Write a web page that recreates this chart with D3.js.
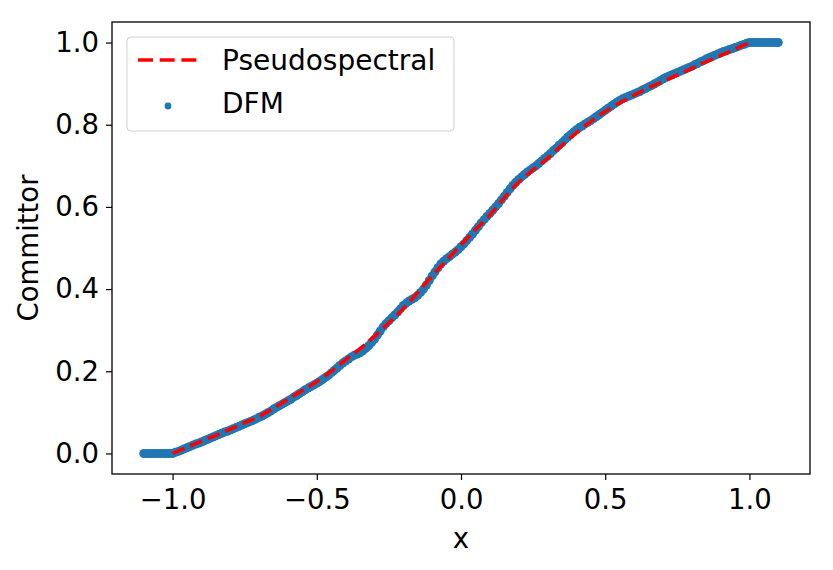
<!DOCTYPE html>
<html>
<head>
<meta charset="utf-8">
<script src="https://d3js.org/d3.v7.min.js"></script>
<style>
  body { margin: 0; background: #fff; }
  text { font-family: "DejaVu Sans", sans-serif; fill: #000; }
</style>
</head>
<body>
<svg id="chart" width="833" height="570"></svg>
<script>
// pseudospectral solution (red dashed line)
var psX = [-1.00, -0.95, -0.90, -0.85, -0.80, -0.75, -0.70, -0.65, -0.60, -0.55, -0.50,
           -0.45, -0.40, -0.35, -0.30, -0.25, -0.20, -0.15, -0.10, -0.05, 0.00,
           0.05, 0.10, 0.15, 0.20, 0.25, 0.30, 0.35, 0.40, 0.45, 0.50,
           0.55, 0.60, 0.65, 0.70, 0.75, 0.80, 0.85, 0.90, 0.95, 1.00];
var psY = [0.000, 0.015, 0.030, 0.044, 0.059, 0.075, 0.090, 0.110, 0.132, 0.153, 0.175,
           0.200, 0.228, 0.255, 0.285, 0.318, 0.352, 0.392, 0.432, 0.470, 0.508,
           0.545, 0.580, 0.622, 0.660, 0.690, 0.718, 0.750, 0.780, 0.808, 0.832,
           0.853, 0.872, 0.890, 0.905, 0.921, 0.937, 0.953, 0.968, 0.984, 1.000];

// DFM samples (blue dots)
var dfmX = [
  -1.10, -1.09, -1.08, -1.07, -1.06, -1.05, -1.04, -1.03, -1.02, -1.01,
  -1.00, -0.99, -0.98, -0.97, -0.96, -0.95, -0.94, -0.93, -0.92, -0.91,
  -0.90, -0.89, -0.88, -0.87, -0.86, -0.85, -0.84, -0.83, -0.82, -0.81,
  -0.80, -0.79, -0.78, -0.77, -0.76, -0.75, -0.74, -0.73, -0.72, -0.71,
  -0.70, -0.69, -0.68, -0.67, -0.66, -0.65, -0.64, -0.63, -0.62, -0.61,
  -0.60, -0.59, -0.58, -0.57, -0.56, -0.55, -0.54, -0.53, -0.52, -0.51,
  -0.50, -0.49, -0.48, -0.47, -0.46, -0.45, -0.44, -0.43, -0.42, -0.41,
  -0.40, -0.39, -0.38, -0.37, -0.36, -0.35, -0.34, -0.33, -0.32, -0.31,
  -0.30, -0.29, -0.28, -0.27, -0.26, -0.25, -0.24, -0.23, -0.22, -0.21,
  -0.20, -0.19, -0.18, -0.17, -0.16, -0.15, -0.14, -0.13, -0.12, -0.11,
  -0.10, -0.09, -0.08, -0.07, -0.06, -0.05, -0.04, -0.03, -0.02, -0.01,
  0.00, 0.01, 0.02, 0.03, 0.04, 0.05, 0.06, 0.07, 0.08, 0.09,
  0.10, 0.11, 0.12, 0.13, 0.14, 0.15, 0.16, 0.17, 0.18, 0.19,
  0.20, 0.21, 0.22, 0.23, 0.24, 0.25, 0.26, 0.27, 0.28, 0.29,
  0.30, 0.31, 0.32, 0.33, 0.34, 0.35, 0.36, 0.37, 0.38, 0.39,
  0.40, 0.41, 0.42, 0.43, 0.44, 0.45, 0.46, 0.47, 0.48, 0.49,
  0.50, 0.51, 0.52, 0.53, 0.54, 0.55, 0.56, 0.57, 0.58, 0.59,
  0.60, 0.61, 0.62, 0.63, 0.64, 0.65, 0.66, 0.67, 0.68, 0.69,
  0.70, 0.71, 0.72, 0.73, 0.74, 0.75, 0.76, 0.77, 0.78, 0.79,
  0.80, 0.81, 0.82, 0.83, 0.84, 0.85, 0.86, 0.87, 0.88, 0.89,
  0.90, 0.91, 0.92, 0.93, 0.94, 0.95, 0.96, 0.97, 0.98, 0.99,
  1.00, 1.01, 1.02, 1.03, 1.04, 1.05, 1.06, 1.07, 1.08, 1.09, 1.10];
var dfmY = [
  0, 0, 0, 0, 0, 0, 0, 0, 0, 0,
  0.000, 0.003, 0.005, 0.008, 0.011, 0.014, 0.017, 0.020, 0.023, 0.025,
  0.028, 0.031, 0.034, 0.037, 0.040, 0.043, 0.046, 0.049, 0.052, 0.054,
  0.057, 0.060, 0.063, 0.066, 0.069, 0.072, 0.075, 0.078, 0.081, 0.084,
  0.088, 0.091, 0.095, 0.099, 0.103, 0.108, 0.112, 0.116, 0.120, 0.124,
  0.128, 0.132, 0.137, 0.141, 0.146, 0.150, 0.155, 0.159, 0.163, 0.167,
  0.171, 0.175, 0.180, 0.185, 0.190, 0.196, 0.202, 0.208, 0.214, 0.220,
  0.225, 0.230, 0.235, 0.239, 0.242, 0.245, 0.250, 0.256, 0.262, 0.270,
  0.278, 0.288, 0.298, 0.308, 0.316, 0.323, 0.330, 0.337, 0.344, 0.352,
  0.360, 0.366, 0.371, 0.375, 0.379, 0.385, 0.392, 0.400, 0.410, 0.421,
  0.432, 0.442, 0.452, 0.461, 0.468, 0.474, 0.479, 0.485, 0.490, 0.496,
  0.503, 0.510, 0.518, 0.526, 0.534, 0.543, 0.552, 0.561, 0.569, 0.577,
  0.584, 0.592, 0.600, 0.608, 0.617, 0.626, 0.635, 0.644, 0.653, 0.660,
  0.667, 0.673, 0.679, 0.685, 0.690, 0.695, 0.700, 0.706, 0.712, 0.718,
  0.724, 0.730, 0.737, 0.743, 0.750, 0.756, 0.763, 0.770, 0.776, 0.782,
  0.788, 0.793, 0.797, 0.802, 0.806, 0.810, 0.815, 0.820, 0.825, 0.830,
  0.835, 0.840, 0.845, 0.850, 0.855, 0.859, 0.863, 0.866, 0.869, 0.872,
  0.875, 0.878, 0.881, 0.885, 0.888, 0.892, 0.895, 0.899, 0.903, 0.907,
  0.911, 0.915, 0.918, 0.921, 0.924, 0.927, 0.930, 0.933, 0.936, 0.939,
  0.942, 0.946, 0.949, 0.953, 0.956, 0.960, 0.963, 0.966, 0.969, 0.972,
  0.975, 0.978, 0.980, 0.983, 0.985, 0.988, 0.990, 0.993, 0.995, 0.998,
  1.000, 1, 1, 1, 1, 1, 1, 1, 1, 1, 1];

var xTicks = [-1.0, -0.5, 0.0, 0.5, 1.0];
var yTicks = [0.0, 0.2, 0.4, 0.6, 0.8, 1.0];
var seriesNames = ["Pseudospectral", "DFM"];

var svg = d3.select("#chart");
var mLeft = 112, mRight = 810, mTop = 22, mBottom = 474;

var x = d3.scaleLinear().domain([-1.21, 1.21]).range([mLeft, mRight]);
var y = d3.scaleLinear().domain([-0.05, 1.05]).range([mBottom, mTop]);

var fmt = function(d) { return d3.format(".1f")(d).replace("-", "\u2212"); };

// axes
var xAxis = svg.append("g")
  .attr("transform", "translate(0," + mBottom + ")")
  .call(d3.axisBottom(x).tickValues(xTicks).tickFormat(fmt).tickSizeOuter(0).tickSize(6).tickPadding(7));
var yAxis = svg.append("g")
  .attr("transform", "translate(" + mLeft + ",0)")
  .call(d3.axisLeft(y).tickValues(yTicks).tickFormat(fmt).tickSizeOuter(0).tickSize(6).tickPadding(7));

[xAxis, yAxis].forEach(function(a) {
  a.select(".domain").remove();
  a.selectAll(".tick line").attr("stroke", "#000").attr("stroke-width", 1.2);
  a.selectAll(".tick text")
    .style("font-size", "27.5px")
    .style("font-family", "DejaVu Sans, sans-serif")
    .attr("fill", "#000");
});
xAxis.selectAll(".tick text").attr("dy", "0.8em");

// dfm dots
svg.append("g").selectAll("circle")
  .data(dfmX.map(function(d, i) { return [d, dfmY[i]]; }))
  .enter()
  .append("circle")
  .attr("cx", function(d) { return x(d[0]); })
  .attr("cy", function(d) { return y(d[1]); })
  .attr("r", 4.5)
  .attr("fill", "#1f77b4");

// pseudospectral line
var line = d3.line()
  .x(function(d) { return x(d[0]); })
  .y(function(d) { return y(d[1]); })
  .curve(d3.curveMonotoneX);

svg.append("path")
  .datum(psX.map(function(d, i) { return [d, psY[i]]; }))
  .attr("d", line)
  .attr("fill", "none")
  .attr("stroke", "red")
  .attr("stroke-width", 3.6)
  .attr("stroke-dasharray", "13,6");

// frame
svg.append("rect")
  .attr("x", mLeft).attr("y", mTop)
  .attr("width", mRight - mLeft).attr("height", mBottom - mTop)
  .attr("fill", "none").attr("stroke", "#000").attr("stroke-width", 1.3);

// axis labels
svg.append("text")
  .attr("x", (mLeft + mRight) / 2).attr("y", 548)
  .attr("text-anchor", "middle")
  .style("font-size", "27.5px")
  .text("x");

svg.append("text")
  .attr("transform", "translate(38," + ((mTop + mBottom) / 2) + ") rotate(-90)")
  .attr("text-anchor", "middle")
  .style("font-size", "27.5px")
  .text("Committor");

// legend
var legend = svg.append("g");
legend.append("rect")
  .attr("x", 127).attr("y", 37)
  .attr("width", 327).attr("height", 94)
  .attr("rx", 4)
  .attr("fill", "#fff").attr("fill-opacity", 0.8)
  .attr("stroke", "#d0d0d0").attr("stroke-width", 1);

legend.append("line")
  .attr("x1", 138).attr("x2", 197)
  .attr("y1", 60).attr("y2", 60)
  .attr("stroke", "red").attr("stroke-width", 3.6)
  .attr("stroke-dasharray", "15,6.7");

legend.append("circle")
  .attr("cx", 168).attr("cy", 106).attr("r", 3.4)
  .attr("fill", "#1f77b4");

legend.selectAll("text.leg")
  .data(seriesNames)
  .enter()
  .append("text")
  .attr("class", "leg")
  .attr("x", 222)
  .attr("y", function(d, i) { return 70 + i * 43; })
  .style("font-size", "28px")
  .text(function(d) { return d; });
</script>
</body>
</html>
